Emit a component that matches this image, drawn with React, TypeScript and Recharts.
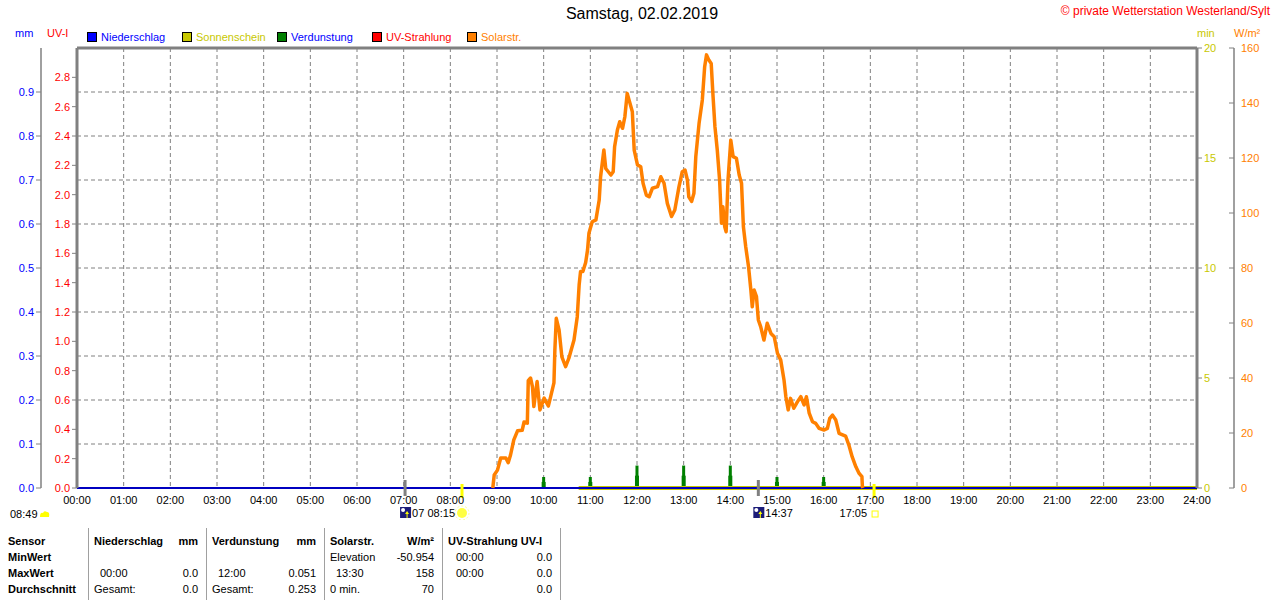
import {
  ComposedChart, Line, Bar, XAxis, YAxis, CartesianGrid, ReferenceLine, ReferenceDot,
} from "recharts";

const FONT = '"Liberation Sans", Arial, sans-serif';
const GREY = "#808080";

// x axis: hours of the day
const HOURS = [0, 1, 2, 3, 4, 5, 6, 7, 8, 9, 10, 11, 12, 13, 14, 15, 16, 17, 18, 19, 20, 21, 22, 23, 24];
const MM_TICKS = [0, 0.1, 0.2, 0.3, 0.4, 0.5, 0.6, 0.7, 0.8, 0.9];
const UV_TICKS = [0, 0.2, 0.4, 0.6, 0.8, 1.0, 1.2, 1.4, 1.6, 1.8, 2.0, 2.2, 2.4, 2.6, 2.8];
const MIN_TICKS = [0, 5, 10, 15, 20];
const W_TICKS = [0, 20, 40, 60, 80, 100, 120, 140, 160];

// Solarstrahlung W/m², time in hours
const solarTime = [
  8.91, 8.94, 9.01, 9.08, 9.19, 9.24, 9.29, 9.36, 9.44, 9.54, 9.58, 9.65, 9.67, 9.72, 9.76, 9.79,
  9.86, 9.92, 10.01, 10.1, 10.15, 10.22, 10.24, 10.27, 10.33, 10.39, 10.47, 10.54, 10.65, 10.72,
  10.76, 10.79, 10.84, 10.9, 10.94, 10.97, 11.04, 11.12, 11.19, 11.22, 11.29, 11.33, 11.44, 11.49,
  11.52, 11.58, 11.63, 11.69, 11.74, 11.79, 11.84, 11.9, 11.94, 12.01, 12.08, 12.13, 12.2, 12.26,
  12.33, 12.44, 12.51, 12.58, 12.65, 12.74, 12.81, 12.9, 12.97, 13.03, 13.08, 13.11, 13.17, 13.22,
  13.26, 13.33, 13.4, 13.45, 13.49, 13.54, 13.59, 13.63, 13.67, 13.72, 13.77, 13.81, 13.84, 13.88,
  13.91, 13.95, 14.01, 14.06, 14.13, 14.19, 14.24, 14.28, 14.33, 14.39, 14.44, 14.47, 14.51, 14.56,
  14.6, 14.65, 14.72, 14.79, 14.87, 14.94, 15.01, 15.08, 15.15, 15.19, 15.24, 15.29, 15.36, 15.44,
  15.51, 15.58, 15.63, 15.69, 15.76, 15.83, 15.9, 16.01, 16.08, 16.13, 16.19, 16.26, 16.33, 16.47,
  16.54, 16.61, 16.69, 16.76, 16.82, 16.83, 16.84,
];
const solarValue = [
  0, 4.7, 6.5, 10.9, 10.9, 9.2, 12, 17.5, 20.8, 21, 24, 23.6, 39, 40, 36.8, 29.6,
  38.7, 28.4, 32.7, 29.8, 33.2, 38.2, 50.2, 61.7, 57.5, 47.7, 44.1, 47.2, 53.8, 62.3,
  73.8, 78.7, 78.7, 82, 86.5, 92.6, 96.8, 97.5, 104.7, 113.2, 122.9, 116.2, 113.8, 115,
  124.1, 130.2, 133.2, 130.8, 135, 143.5, 140.5, 136.8, 122.9, 117.5, 116.8, 110.8, 106.5, 105.9,
  109, 109.6, 113.2, 110.8, 103.5, 98.7, 101.1, 109.6, 115, 115.6, 112, 105.9, 104.2, 107.2,
  120.5, 132.6, 141.1, 153.2, 157.5, 155.6, 154.4, 142.3, 131.4, 122.9, 112, 96.3, 102.3, 95,
  93.2, 112, 126.5, 120.5, 119.9, 113.8, 110.8, 95, 87.7, 80.5, 72, 65.9, 72, 69.6,
  61.1, 58.7, 53.8, 59.9, 56.2, 55, 49, 46.5, 39.3, 33.2, 28.4, 32.6, 29, 31.4,
  33.2, 30.2, 33.2, 27.2, 24.1, 23.5, 21.7, 21.1, 21.7, 25.3, 26.5, 24.7, 19.9, 18.9,
  15.6, 11.4, 7.7, 5.3, 4.1, 0.5, 0,
];

// Verdunstung mm per hour
const evapTime = [10, 11, 12, 13, 14, 15, 16];
const evapValue = [0.025, 0.025, 0.051, 0.051, 0.051, 0.025, 0.025];

// Niederschlag mm (whole day 0)
const rainTime = [0, 24];
const rainValue = [0, 0];

// UV-Strahlung UV-I (whole day 0)
const uvTime = [0, 24];
const uvValue = [0, 0];

// Sonnenschein min
const sunTime = [10.75, 24];
const sunValue = [0, 0];

// sun / moon events below the axis
const eventTime = [7.03, 8.25, 14.6, 17.08];
const eventLabel = ["07", "08:15", "14:37", "17:05"];
const eventKind = ["moon", "sunrise", "moon", "sunset"];

const solarData = solarTime.map((t, i) => ({ t, solar: solarValue[i] }));
const evapData = evapTime.map((t, i) => ({ t, evap: evapValue[i] }));
const rainData = rainTime.map((t, i) => ({ t, rain: rainValue[i] }));
const uvData = uvTime.map((t, i) => ({ t, uv: uvValue[i] }));
const sunData = sunTime.map((t, i) => ({ t, sun: sunValue[i] }));
const events = eventTime.map((t, i) => ({ t, label: eventLabel[i], kind: eventKind[i] }));

const hh = (v: number) => String(v).padStart(2, "0") + ":00";
const f1 = (v: number) => v.toFixed(1);

const leftTick = (color: string) => (p: any) => (
  <g>
    <line x1={p.x - 5} x2={p.x} y1={p.y} y2={p.y} stroke={GREY} />
    <text x={p.x - 7} y={p.y} dy={4} textAnchor="end" fill={color} fontSize={11} fontFamily={FONT}>
      {f1(p.payload.value)}
    </text>
  </g>
);
const mmTick = leftTick("#0000ff");
const uvTick = leftTick("#ff0000");

const minTick = (p: any) => (
  <g>
    <line x1={p.x} x2={p.x + 5} y1={p.y} y2={p.y} stroke={GREY} />
    <text x={p.x + 7} y={p.y} dy={4} fill="#c8c800" fontSize={11} fontFamily={FONT}>{p.payload.value}</text>
  </g>
);

const wTick = (p: any) => (
  <g>
    <line x1={p.x - 5} x2={p.x} y1={p.y} y2={p.y} stroke={GREY} />
    <text x={p.x + 7} y={p.y} dy={4} fill="#ff8000" fontSize={11} fontFamily={FONT}>{p.payload.value}</text>
  </g>
);

// narrow stepped spike like the station software draws
const EvapBar = (p: any) => {
  const cx = p.x + p.width / 2;
  if (!p.height) return null;
  return (
    <g fill="#008000">
      <rect x={cx - 2} y={p.y + p.height * 0.45} width={4} height={p.height * 0.55} />
      <rect x={cx - 1.5} y={p.y} width={3} height={p.height} />
    </g>
  );
};

function EventMark(props: any) {
  const { cx, cy, ev } = props;
  const ty = cy + 30;
  if (ev.kind === "moon") {
    return (
      <g>
        <line x1={cx} x2={cx} y1={cy - 8} y2={cy + 8} stroke={GREY} strokeWidth={3} />
        <rect x={cx - 5} y={ty - 11} width={11} height={11} fill="#1c1c78" />
        <circle cx={cx - 2} cy={ty - 8} r={2} fill="#ffffff" />
        <path d={`M${cx + 2} ${ty - 7} l-2 3 h1.5 v4 h1 v-4 h1.5 z`} fill="#ffff00" />
        <text x={cx + 7} y={ty - 1} fontSize={11} fontFamily={FONT} fill="#000">{ev.label}</text>
      </g>
    );
  }
  return (
    <g>
      <line x1={cx} x2={cx} y1={cy - 4} y2={cy + 10} stroke="#ffff00" strokeWidth={3} />
      {ev.kind === "sunrise" ? (
        <g>
          <circle cx={cx} cy={ty - 5} r={5} fill="#ffff40" />
          <circle cx={cx} cy={ty - 5} r={7} fill="none" stroke="#ffff90" strokeDasharray="2 2" />
        </g>
      ) : (
        <rect x={cx - 2} y={ty - 7} width={6} height={6} fill="none" stroke="#ffff00" />
      )}
      <text x={cx - 7} y={ty - 1} textAnchor="end" fontSize={11} fontFamily={FONT} fill="#000">{ev.label}</text>
    </g>
  );
}

const legendItems = [
  { name: "Niederschlag", box: "#0000ff", text: "#0000ff", x: 87 },
  { name: "Sonnenschein", box: "#c8c800", text: "#c8c800", x: 182 },
  { name: "Verdunstung", box: "#008000", text: "#0000ff", x: 277 },
  { name: "UV-Strahlung", box: "#ff0000", text: "#ff0000", x: 372 },
  { name: "Solarstr.", box: "#ff8000", text: "#ff8000", x: 467 },
];

const tableCols = [88, 206, 324, 442, 560];

const txt = (x: number, y: number, s: string, o: any = {}) => (
  <div style={{ position: "absolute", left: x, top: y - 7, fontSize: 11, lineHeight: "14px", whiteSpace: "nowrap", ...o }}>{s}</div>
);
const rtxt = (r: number, y: number, s: string, o: any = {}) => (
  <div style={{ position: "absolute", right: 1280 - r, top: y - 7, fontSize: 11, lineHeight: "14px", whiteSpace: "nowrap", textAlign: "right", ...o }}>{s}</div>
);
const B = { fontWeight: "bold" };

// axis ids: "a_uv" sits next to the plot, "b_mm" outside of it
const UV = "a_uv";
const MM = "b_mm";

export default function App() {
  return (
    <div style={{ position: "absolute", left: 0, top: 0, width: 1280, height: 600, background: "#fff", fontFamily: FONT, color: "#000", overflow: "hidden" }}>
      <div style={{ position: "absolute", left: 0, width: 1284, top: 5, textAlign: "center", fontSize: 16 }}>Samstag, 02.02.2019</div>
      <div style={{ position: "absolute", right: 10, top: 4, fontSize: 12, color: "#ff0000" }}>© private Wetterstation Westerland/Sylt</div>

      {txt(15, 33, "mm", { color: "#0000ff" })}
      {txt(47, 33, "UV-I", { color: "#ff0000" })}
      {txt(1197, 33, "min", { color: "#c8c800" })}
      {txt(1234, 33, "W/m²", { color: "#ff8000" })}

      {legendItems.map((l) => (
        <div key={l.name} style={{ position: "absolute", left: l.x, top: 31, display: "flex", alignItems: "center", fontSize: 11, color: l.text }}>
          <span style={{ display: "inline-block", width: 8, height: 8, background: l.box, border: "1px solid #000", marginRight: 4 }} />
          {l.name}
        </div>
      ))}

      <ComposedChart width={1280} height={520} data={evapData} margin={{ top: 48, right: 0, left: 0, bottom: 0 }}>
        <CartesianGrid yAxisId={MM} stroke={GREY} strokeDasharray="4 3" />
        <XAxis dataKey="t" type="number" domain={[0, 24]} ticks={HOURS} interval={0} tickFormatter={hh}
          axisLine={false} tickLine={false} tickSize={4} tickMargin={4} height={32}
          tick={{ fill: "#000", fontSize: 11, fontFamily: FONT }} allowDataOverflow />
        <YAxis yAxisId={MM} orientation="left" width={41} domain={[0, 1]} ticks={MM_TICKS} interval={0}
          axisLine={{ stroke: GREY, strokeWidth: 1.5 }} tickLine={false} tickSize={0} tickMargin={0}
          tick={mmTick} />
        <YAxis yAxisId={UV} orientation="left" width={36} domain={[0, 3]} ticks={UV_TICKS} interval={0}
          axisLine={{ stroke: GREY, strokeWidth: 3 }} tickLine={false} tickSize={0} tickMargin={0}
          tick={uvTick} />
        <YAxis yAxisId="min" orientation="right" width={37} domain={[0, 20]} ticks={MIN_TICKS} interval={0}
          axisLine={{ stroke: GREY, strokeWidth: 3 }} tickLine={false} tickSize={0} tickMargin={0}
          tick={minTick} />
        <YAxis yAxisId="w" orientation="right" width={46} domain={[0, 160]} ticks={W_TICKS} interval={0}
          axisLine={{ stroke: GREY, strokeWidth: 1.5 }} tickLine={false} tickSize={0} tickMargin={0}
          tick={wTick} />

        <ReferenceLine yAxisId={MM} y={1} stroke={GREY} strokeWidth={3} />

        <Line yAxisId={MM} data={rainData} dataKey="rain" stroke="#0000c0" strokeWidth={2} dot={false} isAnimationActive={false} />
        <Line yAxisId="min" data={sunData} dataKey="sun" stroke="#c8c800" strokeWidth={4} dot={false} isAnimationActive={false} />
        <Line yAxisId={UV} data={uvData} dataKey="uv" stroke="#0000c0" strokeWidth={2} dot={false} isAnimationActive={false} />
        <Bar yAxisId={MM} dataKey="evap" fill="#008000" barSize={4} shape={EvapBar} isAnimationActive={false} />
        <Line yAxisId="w" data={solarData} dataKey="solar" type="linear" stroke="#ff8000" strokeWidth={3.5}
          strokeLinejoin="round" dot={false} isAnimationActive={false} />

        {events.map((ev) => (
          <ReferenceDot key={ev.t} yAxisId={MM} x={ev.t} y={0} r={0} ifOverflow="visible"
            shape={(p: any) => <EventMark {...p} ev={ev} />} />
        ))}
      </ComposedChart>

      {txt(10, 514, "08:49")}
      <svg style={{ position: "absolute", left: 39, top: 509 }} width={12} height={10}>
        <path d="M1 8 Q1 3 4 4 Q5 1 8 3 Q11 3 10 8 Z" fill="#ffff00" />
      </svg>

      {tableCols.map((x) => (
        <div key={x} style={{ position: "absolute", left: x, top: 528, width: 1, height: 72, background: "#a0a0a0" }} />
      ))}

      {txt(8, 541, "Sensor", B)}
      {txt(8, 557, "MinWert", B)}
      {txt(8, 573, "MaxWert", B)}
      {txt(8, 589, "Durchschnitt", B)}

      {txt(94, 541, "Niederschlag", B)}
      {rtxt(198, 541, "mm", B)}
      {txt(100, 573, "00:00")}
      {rtxt(198, 573, "0.0")}
      {txt(94, 589, "Gesamt:")}
      {rtxt(198, 589, "0.0")}

      {txt(212, 541, "Verdunstung", B)}
      {rtxt(316, 541, "mm", B)}
      {txt(218, 573, "12:00")}
      {rtxt(316, 573, "0.051")}
      {txt(212, 589, "Gesamt:")}
      {rtxt(316, 589, "0.253")}

      {txt(330, 541, "Solarstr.", B)}
      {rtxt(434, 541, "W/m²", B)}
      {txt(330, 557, "Elevation")}
      {rtxt(434, 557, "-50.954")}
      {txt(336, 573, "13:30")}
      {rtxt(434, 573, "158")}
      {txt(330, 589, "0 min.")}
      {rtxt(434, 589, "70")}

      {txt(448, 541, "UV-Strahlung UV-I", B)}
      {txt(456, 557, "00:00")}
      {rtxt(552, 557, "0.0")}
      {txt(456, 573, "00:00")}
      {rtxt(552, 573, "0.0")}
      {rtxt(552, 589, "0.0")}
    </div>
  );
}
